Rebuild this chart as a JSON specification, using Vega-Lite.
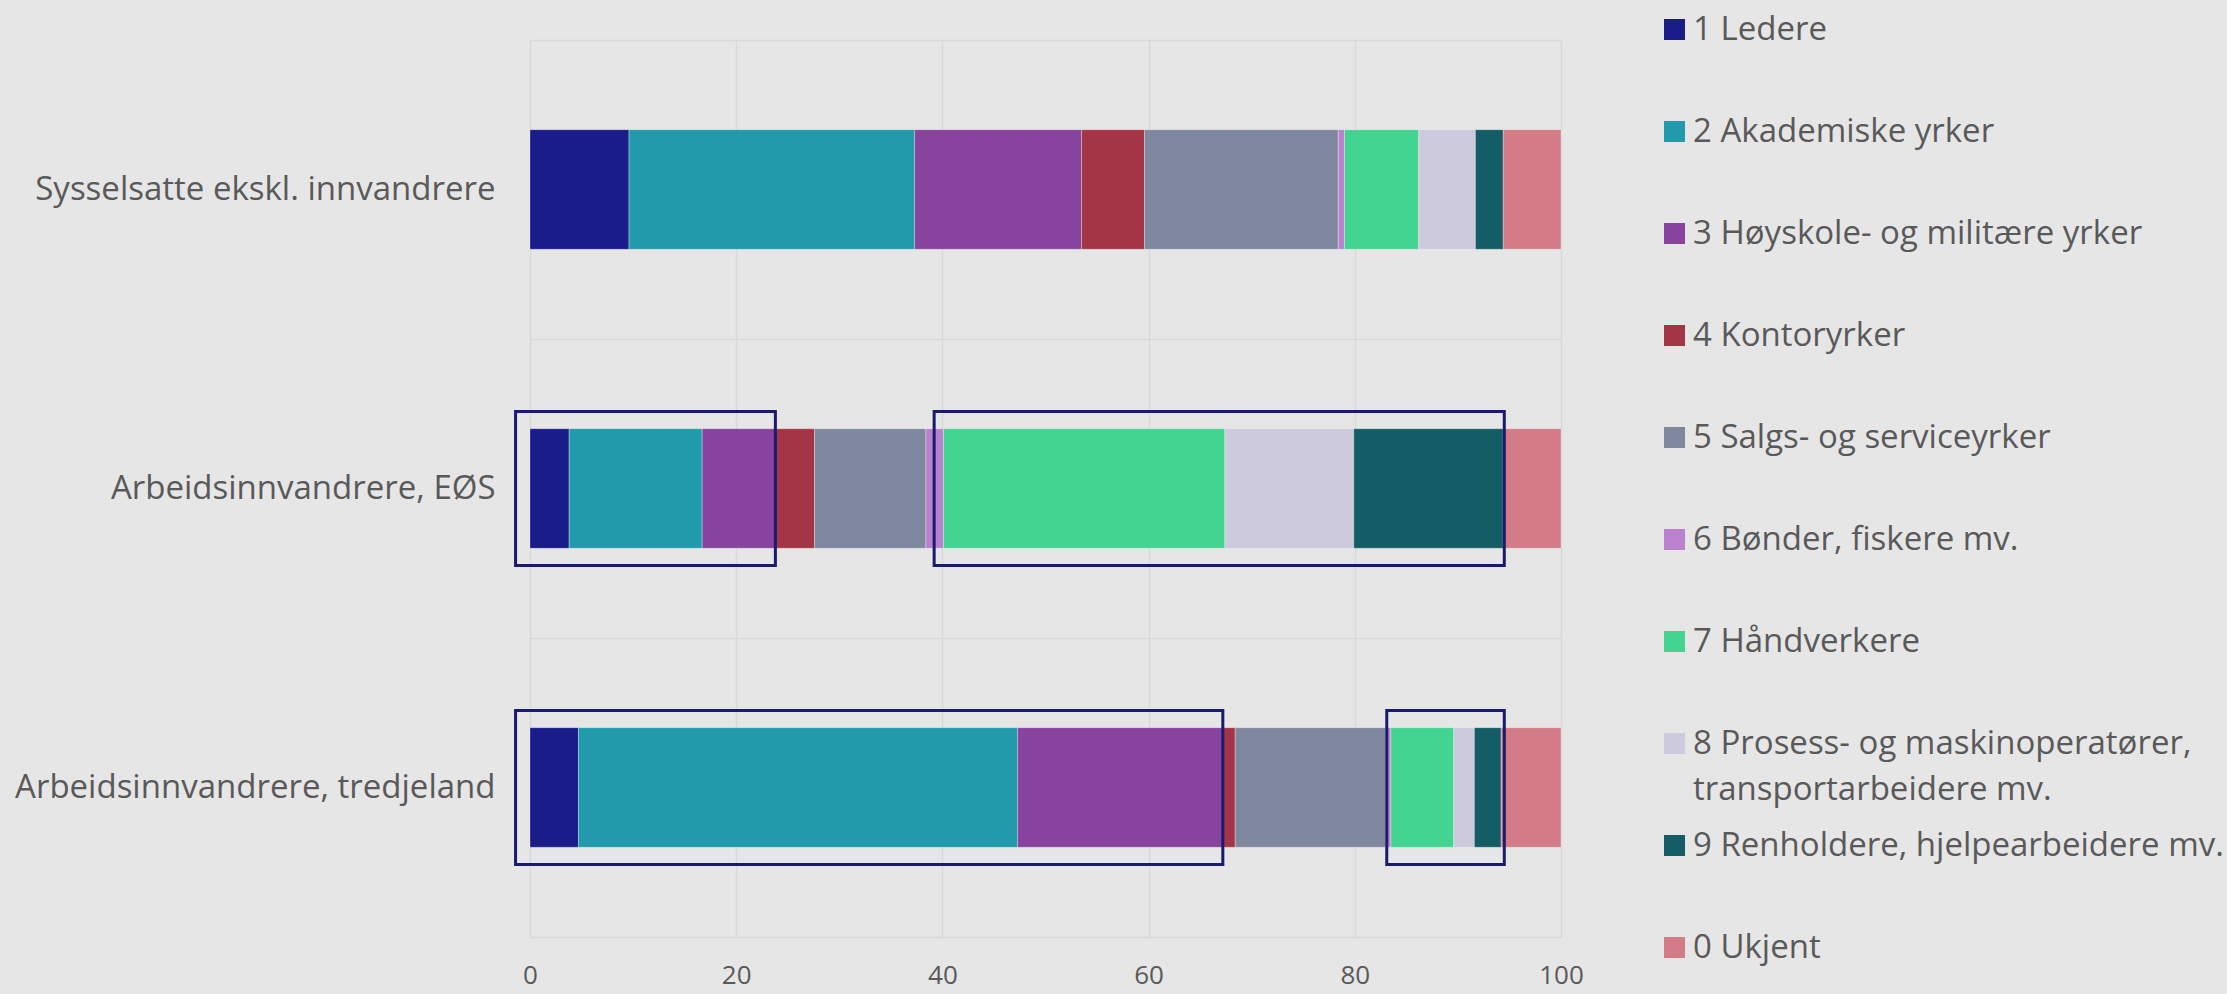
{
  "$schema": "https://vega.github.io/schema/vega-lite/v6.json",
  "width": 1031,
  "height": 897,
  "autosize": "none",
  "padding": {"left": 530, "top": 40, "right": 666, "bottom": 57},
  "background": "#E6E6E6",
  "config": {
    "view": {"stroke": null},
    "font": "Open Sans",
    "style": {"guide-label": {"lineHeight": 46}}
  },
  "datasets": {
    "andeler": [
      {"gruppe": "Sysselsatte ekskl. innvandrere", "serie": 1, "yrke": "1 Ledere", "andel": 9.6},
      {"gruppe": "Sysselsatte ekskl. innvandrere", "serie": 2, "yrke": "2 Akademiske yrker", "andel": 27.7},
      {"gruppe": "Sysselsatte ekskl. innvandrere", "serie": 3, "yrke": "3 Høyskole- og militære yrker", "andel": 16.2},
      {"gruppe": "Sysselsatte ekskl. innvandrere", "serie": 4, "yrke": "4 Kontoryrker", "andel": 6.1},
      {"gruppe": "Sysselsatte ekskl. innvandrere", "serie": 5, "yrke": "5 Salgs- og serviceyrker", "andel": 18.8},
      {"gruppe": "Sysselsatte ekskl. innvandrere", "serie": 6, "yrke": "6 Bønder, fiskere mv.", "andel": 0.6},
      {"gruppe": "Sysselsatte ekskl. innvandrere", "serie": 7, "yrke": "7 Håndverkere", "andel": 7.2},
      {"gruppe": "Sysselsatte ekskl. innvandrere", "serie": 8, "yrke": "8 Prosess- og maskinoperatører, transportarbeidere mv.", "andel": 5.5},
      {"gruppe": "Sysselsatte ekskl. innvandrere", "serie": 9, "yrke": "9 Renholdere, hjelpearbeidere mv.", "andel": 2.7},
      {"gruppe": "Sysselsatte ekskl. innvandrere", "serie": 10, "yrke": "0 Ukjent", "andel": 5.6},
      {"gruppe": "Arbeidsinnvandrere, EØS", "serie": 1, "yrke": "1 Ledere", "andel": 3.8},
      {"gruppe": "Arbeidsinnvandrere, EØS", "serie": 2, "yrke": "2 Akademiske yrker", "andel": 12.9},
      {"gruppe": "Arbeidsinnvandrere, EØS", "serie": 3, "yrke": "3 Høyskole- og militære yrker", "andel": 7.1},
      {"gruppe": "Arbeidsinnvandrere, EØS", "serie": 4, "yrke": "4 Kontoryrker", "andel": 3.8},
      {"gruppe": "Arbeidsinnvandrere, EØS", "serie": 5, "yrke": "5 Salgs- og serviceyrker", "andel": 10.8},
      {"gruppe": "Arbeidsinnvandrere, EØS", "serie": 6, "yrke": "6 Bønder, fiskere mv.", "andel": 1.7},
      {"gruppe": "Arbeidsinnvandrere, EØS", "serie": 7, "yrke": "7 Håndverkere", "andel": 27.3},
      {"gruppe": "Arbeidsinnvandrere, EØS", "serie": 8, "yrke": "8 Prosess- og maskinoperatører, transportarbeidere mv.", "andel": 12.5},
      {"gruppe": "Arbeidsinnvandrere, EØS", "serie": 9, "yrke": "9 Renholdere, hjelpearbeidere mv.", "andel": 14.5},
      {"gruppe": "Arbeidsinnvandrere, EØS", "serie": 10, "yrke": "0 Ukjent", "andel": 5.6},
      {"gruppe": "Arbeidsinnvandrere, tredjeland", "serie": 1, "yrke": "1 Ledere", "andel": 4.7},
      {"gruppe": "Arbeidsinnvandrere, tredjeland", "serie": 2, "yrke": "2 Akademiske yrker", "andel": 42.6},
      {"gruppe": "Arbeidsinnvandrere, tredjeland", "serie": 3, "yrke": "3 Høyskole- og militære yrker", "andel": 19.9},
      {"gruppe": "Arbeidsinnvandrere, tredjeland", "serie": 4, "yrke": "4 Kontoryrker", "andel": 1.2},
      {"gruppe": "Arbeidsinnvandrere, tredjeland", "serie": 5, "yrke": "5 Salgs- og serviceyrker", "andel": 14.6},
      {"gruppe": "Arbeidsinnvandrere, tredjeland", "serie": 6, "yrke": "6 Bønder, fiskere mv.", "andel": 0.5},
      {"gruppe": "Arbeidsinnvandrere, tredjeland", "serie": 7, "yrke": "7 Håndverkere", "andel": 6.1},
      {"gruppe": "Arbeidsinnvandrere, tredjeland", "serie": 8, "yrke": "8 Prosess- og maskinoperatører, transportarbeidere mv.", "andel": 2.0},
      {"gruppe": "Arbeidsinnvandrere, tredjeland", "serie": 9, "yrke": "9 Renholdere, hjelpearbeidere mv.", "andel": 2.6},
      {"gruppe": "Arbeidsinnvandrere, tredjeland", "serie": 10, "yrke": "0 Ukjent", "andel": 5.8}
    ],
    "markeringer": [
      {"gruppe": "Arbeidsinnvandrere, EØS", "fra": -1.4, "til": 23.8},
      {"gruppe": "Arbeidsinnvandrere, EØS", "fra": 39.2, "til": 94.5},
      {"gruppe": "Arbeidsinnvandrere, tredjeland", "fra": -1.4, "til": 67.2},
      {"gruppe": "Arbeidsinnvandrere, tredjeland", "fra": 83.1, "til": 94.5}
    ]
  },
  "layer": [
    {
      "data": {"name": "andeler"},
      "mark": {"type": "bar", "height": {"band": 0.4}, "stroke": "#FFFFFF", "strokeWidth": 1, "strokeOpacity": 0.3},
      "encoding": {
        "y": {
          "field": "gruppe", "type": "nominal",
          "sort": ["Sysselsatte ekskl. innvandrere", "Arbeidsinnvandrere, EØS", "Arbeidsinnvandrere, tredjeland"],
          "scale": {"paddingInner": 0, "paddingOuter": 0},
          "axis": {
            "title": null, "domain": false, "ticks": false, "tickSize": 0,
            "grid": true, "tickBand": "extent", "gridColor": "#D9D9D9", "gridWidth": 1.5,
            "labelFontSize": 33, "labelColor": "#595959", "labelPadding": 35, "labelLimit": 0
          }
        },
        "x": {
          "field": "andel", "type": "quantitative", "stack": "zero",
          "scale": {"domain": [0, 100], "nice": false},
          "axis": {
            "title": null, "values": [0, 20, 40, 60, 80, 100],
            "grid": true, "gridColor": "#D9D9D9", "gridWidth": 1.5,
            "domain": true, "domainColor": "#D9D9D9", "domainWidth": 1.5,
            "ticks": false, "tickSize": 0, "labelFlush": false,
            "labelFontSize": 26, "labelColor": "#595959", "labelPadding": 25
          }
        },
        "order": {"field": "serie", "type": "quantitative", "sort": "ascending"},
        "color": {
          "field": "yrke", "type": "nominal",
          "scale": {
            "domain": ["1 Ledere", "2 Akademiske yrker", "3 Høyskole- og militære yrker", "4 Kontoryrker", "5 Salgs- og serviceyrker", "6 Bønder, fiskere mv.", "7 Håndverkere", "8 Prosess- og maskinoperatører, transportarbeidere mv.", "9 Renholdere, hjelpearbeidere mv.", "0 Ukjent"],
            "range": ["#1A1C8A", "#219AAB", "#87439E", "#A33546", "#80889F", "#BA82CE", "#44D491", "#CCCADC", "#145C66", "#D37C87"]
          },
          "legend": {
            "title": null, "orient": "none", "legendX": 1128, "legendY": -27,
            "padding": 0, "symbolType": "square", "symbolSize": 441, "symbolStrokeWidth": 0,
            "labelFontSize": 33, "labelColor": "#595959", "labelOffset": 2, "labelLimit": 0,
            "rowPadding": 22,
            "labelExpr": "datum.label == '8 Prosess- og maskinoperatører, transportarbeidere mv.' ? ['8 Prosess- og maskinoperatører,', 'transportarbeidere mv.'] : [datum.label, '']"
          }
        }
      }
    },
    {
      "data": {"name": "markeringer"},
      "mark": {"type": "bar", "height": {"band": 0.515}, "filled": false, "color": "#1A1A6E", "strokeWidth": 3},
      "encoding": {
        "y": {"field": "gruppe", "type": "nominal", "sort": ["Sysselsatte ekskl. innvandrere", "Arbeidsinnvandrere, EØS", "Arbeidsinnvandrere, tredjeland"]},
        "x": {"field": "fra", "type": "quantitative"},
        "x2": {"field": "til"}
      }
    }
  ]
}
